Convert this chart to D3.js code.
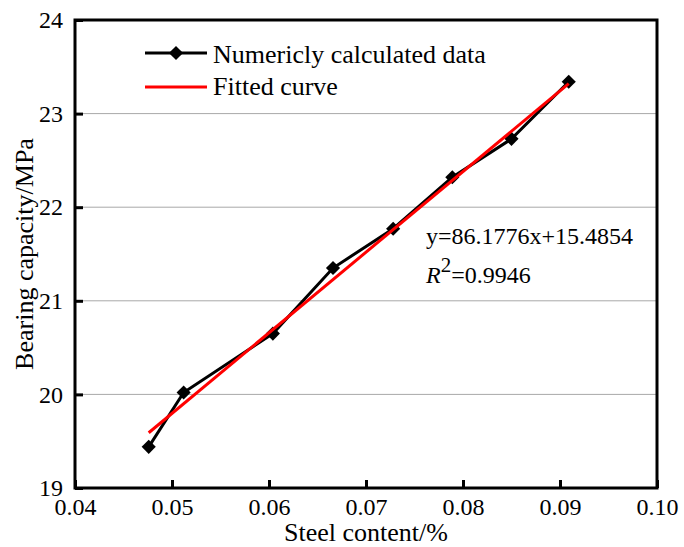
<!DOCTYPE html>
<meta charset="utf-8">
<head>
<script src="https://cdn.jsdelivr.net/npm/d3@7/dist/d3.min.js"></script>
<style>
  body { margin: 0; background: #fff; }
  svg text { font-family: "Times New Roman", "Liberation Serif", "DejaVu Serif", serif; fill: #000; }
</style>
</head>
<body>
<svg id="chart"></svg>
<script>
// numerically calculated data
var steel = [0.0476, 0.0512, 0.0604, 0.0666, 0.0728, 0.0789, 0.0850, 0.0909];
var bearing = [19.44, 20.02, 20.65, 21.35, 21.77, 22.32, 22.73, 23.34];

// fitted line end points (y=86.1776x+15.4854)
var fitX = [0.0476, 0.0909];
var fitY = [19.59, 23.32];

var xTicks = [0.04, 0.05, 0.06, 0.07, 0.08, 0.09, 0.10];
var yTicks = [19, 20, 21, 22, 23, 24];

var width = 684, height = 547;
var margin = {top: 20, right: 27, bottom: 59, left: 75};
var serif = '"Times New Roman", "Liberation Serif", "DejaVu Serif", serif';

var svg = d3.select("#chart")
  .attr("width", width)
  .attr("height", height);

var x = d3.scaleLinear().domain([0.04, 0.10]).range([margin.left, width - margin.right]);
var y = d3.scaleLinear().domain([19, 24]).range([height - margin.bottom, margin.top]);

// grid lines
svg.append("g")
  .selectAll("line")
  .data(yTicks.filter(function(d){ return d > 19 && d < 24; }))
  .enter().append("line")
  .attr("x1", x(0.04)).attr("x2", x(0.10))
  .attr("y1", function(d){ return y(d); })
  .attr("y2", function(d){ return y(d); })
  .attr("stroke", "#a8a8a8")
  .attr("stroke-width", 1);

// axes, ticks inward
var xAxis = svg.append("g")
  .attr("transform", "translate(0," + y(19) + ")")
  .call(d3.axisBottom(x).tickValues(xTicks).tickFormat(d3.format(".2f")).tickSizeInner(-8).tickSizeOuter(0).tickPadding(10));

var yAxis = svg.append("g")
  .attr("transform", "translate(" + x(0.04) + ",0)")
  .call(d3.axisLeft(y).tickValues(yTicks).tickFormat(d3.format("d")).tickSizeInner(-8).tickSizeOuter(0).tickPadding(12));

[xAxis, yAxis].forEach(function(a){
  a.attr("font-family", serif);
  a.select(".domain").remove();
  a.selectAll(".tick line").attr("stroke", "#000").attr("stroke-width", 3);
  a.selectAll(".tick text").style("font-family", serif).style("font-size", "24px");
});

// frame
svg.append("rect")
  .attr("x", x(0.04)).attr("y", y(24))
  .attr("width", x(0.10) - x(0.04))
  .attr("height", y(19) - y(24))
  .attr("fill", "none")
  .attr("stroke", "#000")
  .attr("stroke-width", 3);

// data line
var line = d3.line()
  .x(function(d){ return x(d[0]); })
  .y(function(d){ return y(d[1]); });

svg.append("path")
  .datum(d3.zip(steel, bearing))
  .attr("d", line)
  .attr("fill", "none")
  .attr("stroke", "#000")
  .attr("stroke-width", 3);

var diamond = d3.symbol().type(d3.symbolSquare).size(100);

svg.append("g")
  .selectAll("path")
  .data(d3.zip(steel, bearing))
  .enter().append("path")
  .attr("d", diamond)
  .attr("transform", function(d){ return "translate(" + x(d[0]) + "," + y(d[1]) + ") rotate(45)"; })
  .attr("fill", "#000");

// fitted line
svg.append("path")
  .datum(d3.zip(fitX, fitY))
  .attr("d", line)
  .attr("fill", "none")
  .attr("stroke", "#ff0000")
  .attr("stroke-width", 3);

// legend
var leg = svg.append("g");
leg.append("line").attr("x1", 145).attr("x2", 207).attr("y1", 53).attr("y2", 53)
  .attr("stroke", "#000").attr("stroke-width", 3);
leg.append("path").attr("d", diamond).attr("transform", "translate(176,53) rotate(45)").attr("fill", "#000");
leg.append("text").attr("x", 213).attr("y", 63).style("font-size", "26px").text("Numericly calculated data");
leg.append("line").attr("x1", 145).attr("x2", 207).attr("y1", 87).attr("y2", 87)
  .attr("stroke", "#ff0000").attr("stroke-width", 3);
leg.append("text").attr("x", 213).attr("y", 95).style("font-size", "26px").text("Fitted curve");

// equation
svg.append("text").attr("x", 426).attr("y", 244).style("font-size", "24px").text("y=86.1776x+15.4854");
var r2 = svg.append("text").attr("x", 426).attr("y", 283).style("font-size", "24px");
r2.append("tspan").style("font-style", "italic").text("R");
r2.append("tspan").attr("dy", -11).style("font-size", "21px").text("2");
r2.append("tspan").attr("dy", 11).text("=0.9946");

// axis titles
svg.append("text")
  .attr("x", (x(0.04) + x(0.10)) / 2).attr("y", 541)
  .attr("text-anchor", "middle").style("font-size", "26px")
  .text("Steel content/%");

svg.append("text")
  .attr("transform", "translate(33," + (y(19) + y(24)) / 2 + ") rotate(-90)")
  .attr("text-anchor", "middle").style("font-size", "26px")
  .text("Bearing capacity/MPa");
</script>
</body>
